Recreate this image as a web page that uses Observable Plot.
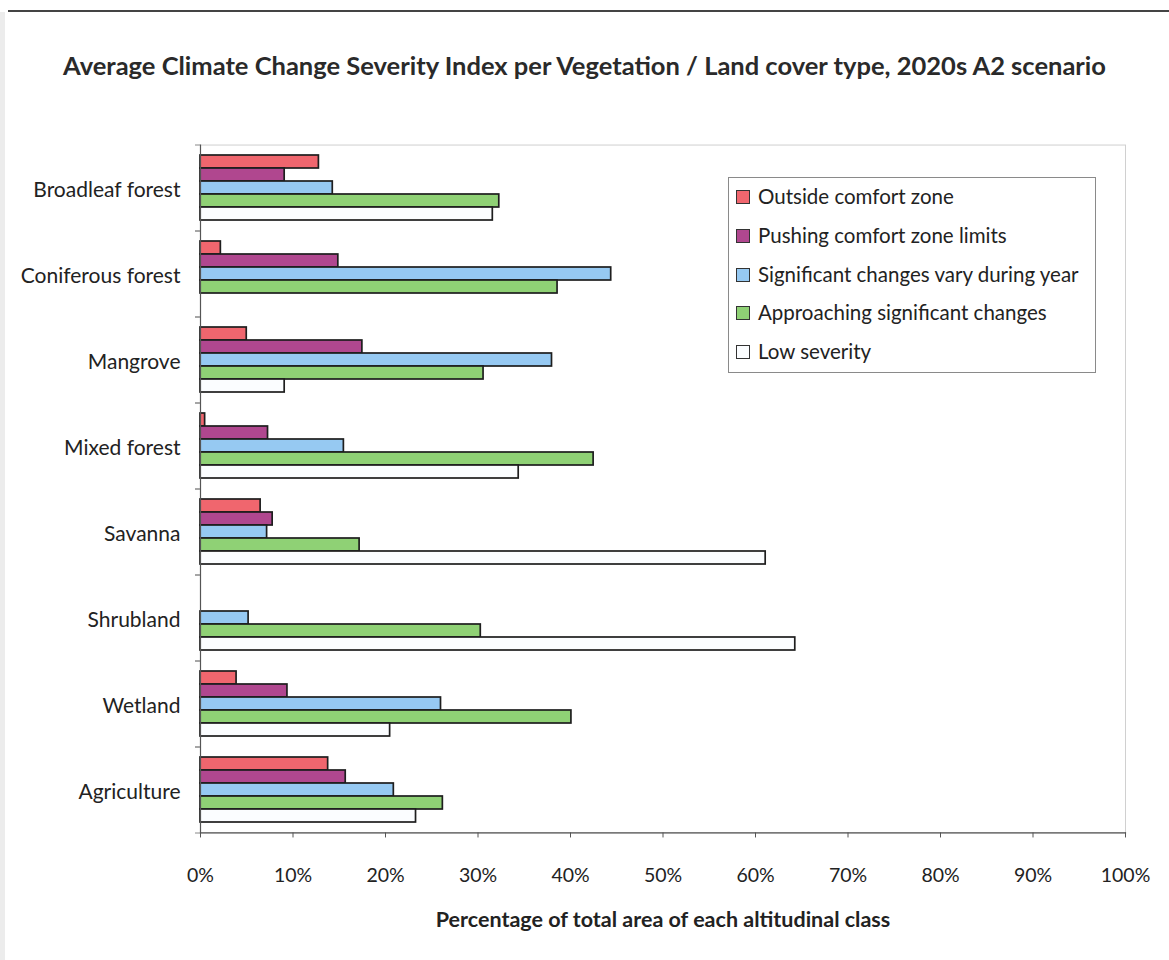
<!DOCTYPE html>
<html>
<head>
<meta charset="utf-8">
<script src="https://cdn.jsdelivr.net/npm/d3@7"></script>
<script src="https://cdn.jsdelivr.net/npm/@observablehq/plot@0.6"></script>
<style>
  html, body { margin: 0; padding: 0; background: #fff; }
  #page { position: relative; width: 1169px; height: 960px; overflow: hidden; background: #fff; font-family: Lato, "Open Sans", sans-serif; color: #222; }
  #topline { position: absolute; left: 8px; right: 0; top: 10px; height: 2px; background: #444; }
  #leftstrip { position: absolute; left: 0; top: 12px; bottom: 0; width: 5px; background: #ececec; }
  #title { position: absolute; left: 0; width: 1169px; top: 50px; text-align: center; font-weight: 700; font-size: 25.5px; color: #2a2a2a; }
  #chart { position: absolute; left: 0; top: 100px; }
  #legend { position: absolute; left: 728px; top: 177px; width: 368px; height: 196px; border: 1px solid #8a8a8a; background: #fff; box-sizing: border-box; }
  .item { position: absolute; left: 7px; font-size: 20.5px; color: #222; white-space: nowrap; }
  .sw { display: inline-block; width: 12px; height: 12px; border: 1px solid #333; vertical-align: 0px; margin-right: 8px; }
</style>
</head>
<body>
<div id="page">
  <div id="topline"></div>
  <div id="leftstrip"></div>
  <div id="title"></div>
  <div id="chart"></div>
  <div id="legend"></div>
</div>
<script>
const titleText = "Average Climate Change Severity Index per Vegetation / Land cover type, 2020s A2 scenario";
const xLabel = "Percentage of total area of each altitudinal class";
const categories = ["Broadleaf forest", "Coniferous forest", "Mangrove", "Mixed forest", "Savanna", "Shrubland", "Wetland", "Agriculture"];
const series = ["Outside comfort zone", "Pushing comfort zone limits", "Significant changes vary during year", "Approaching significant changes", "Low severity"];
const colors = ["#f0666e", "#b0478f", "#96c9f2", "#8fd175", "#fbfdff"];
const outside     = [12.8,  2.2,  5.0,  0.5,  6.5,  0,    3.9, 13.8];
const pushing     = [ 9.1, 14.9, 17.5,  7.3,  7.8,  0,    9.4, 15.7];
const significant = [14.3, 44.4, 38.0, 15.5,  7.2,  5.2, 26.0, 20.9];
const approaching = [32.3, 38.6, 30.6, 42.5, 17.2, 30.3, 40.1, 26.2];
const low         = [31.6,  0,    9.1, 34.4, 61.1, 64.3, 20.5, 23.3];
const xTicks = [0, 10, 20, 30, 40, 50, 60, 70, 80, 90, 100];

const valuesBySeries = [outside, pushing, significant, approaching, low];
const table = [];
categories.forEach((c, i) => {
  series.forEach((s, j) => {
    const v = valuesBySeries[j][i];
    if (v > 0) table.push({category: c, series: s, value: v});
  });
});

document.getElementById("title").textContent = titleText;

const W = 1169, H = 860, mTop = 45, mBottom = 127, mLeft = 200, mRight = 44;
const padInner = 0.22, padOuter = 0.11;
const step = (H - mTop - mBottom) / categories.length;
const outerGap = step * padOuter;

const chart = Plot.plot({
  width: W, height: H,
  marginLeft: mLeft, marginRight: mRight, marginTop: mTop, marginBottom: mBottom,
  style: {fontFamily: "Lato, 'Open Sans', sans-serif", color: "#222", background: "transparent"},
  x: {domain: [0, 100]},
  y: {domain: series, padding: 0, axis: null},
  fy: {domain: categories, paddingInner: padInner, paddingOuter: padOuter, axis: null},
  color: {domain: series, range: colors},
  marks: [
    Plot.frame({facet: "super", stroke: "#d0d0d0", insetTop: -outerGap, insetBottom: -outerGap}),
    Plot.barX(table, {x: "value", y: "series", fy: "category", fill: "series", stroke: "#1e1e1e", strokeWidth: 1.7}),
    Plot.frame({facet: "super", anchor: "left", stroke: "#555", strokeWidth: 1.2, insetTop: -outerGap, insetBottom: -outerGap}),
    Plot.frame({facet: "super", anchor: "bottom", stroke: "#555", strokeWidth: 1.2, insetBottom: -outerGap}),
    Plot.axisX({ticks: xTicks, tickFormat: d => d + "%", tickSize: 5, tickPadding: 30, fontSize: 19.5, label: null, stroke: "#555", dy: outerGap}),
    Plot.axisFy({anchor: "left", tickSize: 0, tickPadding: 20, fontSize: 21, label: null, dy: 2}),
    Plot.axisFy({anchor: "left", tickSize: 5, text: null, dy: -step / 2, label: null, stroke: "#888"}),
    Plot.axisFy({anchor: "left", tickSize: 5, text: null, dy: step / 2, label: null, stroke: "#888"}),
    Plot.text([xLabel], {text: d => d, frameAnchor: "bottom", dy: 103, facet: "super", fontWeight: "bold", fontSize: 21.5, fill: "#222"})
  ]
});
document.getElementById("chart").appendChild(chart);

const legend = document.getElementById("legend");
series.forEach((s, j) => {
  const item = document.createElement("div");
  item.className = "item";
  item.style.top = (6 + j * 38.8) + "px";
  const sw = document.createElement("span");
  sw.className = "sw";
  sw.style.background = colors[j];
  item.appendChild(sw);
  item.appendChild(document.createTextNode(s));
  legend.appendChild(item);
});
</script>
</body>
</html>
